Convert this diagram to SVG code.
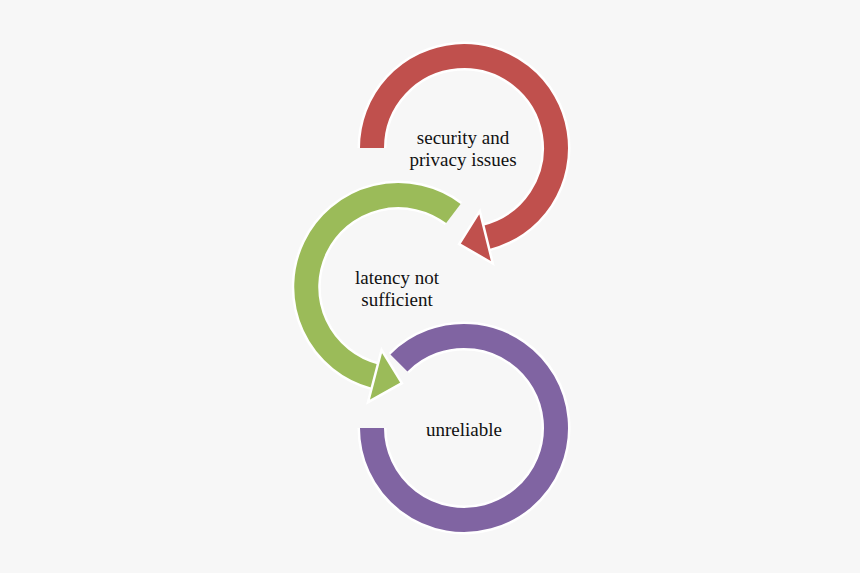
<svg xmlns="http://www.w3.org/2000/svg" width="860" height="573" viewBox="0 0 860 573">
<style>
.o{fill:none;stroke:#fff;stroke-width:29}
.a{fill:none;stroke-width:24}
.h{stroke:#fff;stroke-width:2.5;stroke-linejoin:miter}
text{font-family:"Liberation Serif","DejaVu Serif",serif;font-size:19px;fill:#111;text-anchor:middle}
</style>
<rect width="860" height="573" fill="#f7f7f7"/>
<g id="connectors">
<g id="purple">
<path class="o" d="M398.9 362.9 A92 92 0 1 1 372 428"/>
<path class="a" stroke="#8064a2" d="M398.9 362.9 A92 92 0 1 1 372 428"/>
</g>
<g id="green">
<path class="o" d="M453.4 213.5 A92 92 0 1 0 374.8 376.1"/>
<path class="a" stroke="#9bbb59" d="M453.4 213.5 A92 92 0 1 0 374.8 376.1"/>
<polygon class="h" fill="#9bbb59" points="368,402.2 381.6,350 401.9,383.2"/>
</g>
<g id="red">
<path class="o" d="M372 148 A92 92 0 1 1 486.3 237.3"/>
<path class="a" stroke="#c0504d" d="M372 148 A92 92 0 1 1 486.3 237.3"/>
<polygon class="h" fill="#c0504d" points="492.8,263.5 479.8,211.1 459.1,244.1"/>
</g>
</g>
<g id="n1"><text x="463" y="144">security and</text><text x="463" y="166">privacy issues</text></g>
<g id="n2"><text x="397" y="284">latency not</text><text x="397" y="306">sufficient</text></g>
<g id="n3"><text x="464" y="436">unreliable</text></g>
</svg>
